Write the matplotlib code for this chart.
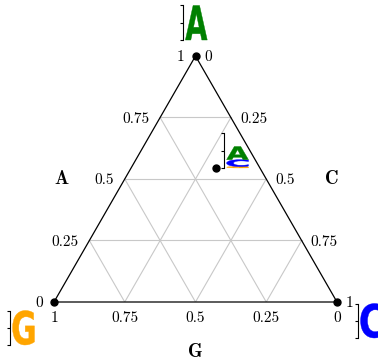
import numpy as np
import matplotlib
matplotlib.use('Agg')
import matplotlib.pyplot as plt
from matplotlib.textpath import TextPath
from matplotlib.font_manager import FontProperties
from matplotlib.patches import PathPatch
from matplotlib.transforms import Affine2D

plt.rcParams['axes.unicode_minus'] = False

# Composicao (fracoes A, C, G) de cada ponto do grafico.
nomes = ['A', 'C', 'G', 'amostra']
frac_a = [1.0, 0.0, 0.0, 0.545]
frac_c = [0.0, 1.0, 0.0, 0.30]
frac_g = [0.0, 0.0, 1.0, 0.155]

# Altura de cada letra no logo (bits).
bits_a = [2.0, 0.0, 0.0, 0.76]
bits_c = [0.0, 2.0, 0.0, 0.40]
bits_g = [0.0, 0.0, 2.0, 0.08]

ticks = [0, 0.25, 0.5, 0.75, 1]
tick_labels = ['0', '0.25', '0.5', '0.75', '1']

cores = {'A': 'green', 'C': 'blue', 'G': 'orange'}

H = np.sqrt(3) / 2
W_PX, H_PX = 378, 364


def cart(a, c):
    return c + a / 2, a * H


fig = plt.figure(figsize=(W_PX / 100, H_PX / 100), dpi=100)
ax = fig.add_axes([54 / W_PX, 62 / H_PX, 283 / W_PX, 246 / H_PX])
ax.set_xlim(0, 1)
ax.set_ylim(0, H)
ax.axis('off')

# Grade.
for v in [0.25, 0.5, 0.75]:
    # A constante
    x0, y0 = cart(v, 0)
    x1, y1 = cart(v, 1 - v)
    ax.plot([x0, x1], [y0, y1], color='#c8c8c8', lw=0.8, zorder=1)
    # C constante
    x0, y0 = cart(0, v)
    x1, y1 = cart(1 - v, v)
    ax.plot([x0, x1], [y0, y1], color='#c8c8c8', lw=0.8, zorder=1)
    # G constante
    x0, y0 = cart(0, 1 - v)
    x1, y1 = cart(1 - v, 0)
    ax.plot([x0, x1], [y0, y1], color='#c8c8c8', lw=0.8, zorder=1)

# Triangulo.
tx = [cart(1, 0)[0], cart(0, 0)[0], cart(0, 1)[0], cart(1, 0)[0]]
ty = [cart(1, 0)[1], cart(0, 0)[1], cart(0, 1)[1], cart(1, 0)[1]]
ax.plot(tx, ty, color='black', lw=0.9, zorder=2, clip_on=False)

# Rotulos dos eixos.
serif = {'family': 'cmr10', 'size': 11}
for t, lab in zip(ticks, tick_labels):
    # A no lado esquerdo
    ax.annotate(lab, cart(t, 0), xytext=(-11, -1.5), textcoords='offset pixels',
                ha='right', va='center', **serif)
    # C no lado direito
    ax.annotate(lab, cart(1 - t, t), xytext=(9, -1.5), textcoords='offset pixels',
                ha='left', va='center', **serif)
    # G na base
    ax.annotate(lab, cart(0, 1 - t), xytext=(0, -16.5), textcoords='offset pixels',
                ha='center', va='center', **serif)

bold = {'family': 'cmb10', 'size': 13.5}
ax.annotate('A', cart(0.5, 0), xytext=(-63, 0), textcoords='offset pixels',
            ha='center', va='center', **bold)
ax.annotate('C', cart(0.5, 0.5), xytext=(66, 0), textcoords='offset pixels',
            ha='center', va='center', **bold)
ax.annotate('G', cart(0, 0.5), xytext=(0, -50), textcoords='offset pixels',
            ha='center', va='center', **bold)

# Pontos.
px = [cart(a, c)[0] for a, c in zip(frac_a, frac_c)]
py = [cart(a, c)[1] for a, c in zip(frac_a, frac_c)]
ax.plot(px, py, 'o', color='black', ms=5, zorder=5, clip_on=False)

fonte_logo = FontProperties(family='DejaVu Sans', weight='bold')


def desenha_letra(lax, letra, x0, y0, w, h, cor):
    if h <= 0:
        return
    tp = TextPath((0, 0), letra, size=1, prop=fonte_logo)
    bb = tp.get_extents()
    tr = (Affine2D().translate(-bb.x0, -bb.y0)
          .scale(w / bb.width, h / bb.height).translate(x0, y0))
    lax.add_patch(PathPatch(tr.transform_path(tp), facecolor=cor,
                            edgecolor=cor, lw=0.3, clip_on=False))


# Deslocamento (pixels) do canto inferior do logo em relacao ao ponto.
desloc = [(-12.7, 16), (21, -36), (-44, -43), (8, 0)]
larg_logo, alt_logo = 26, 34.5

fig.canvas.draw()
for i in range(len(nomes)):
    dx, dy = ax.transData.transform((px[i], py[i]))
    dx += desloc[i][0]
    dy += desloc[i][1]
    lax = fig.add_axes([dx / W_PX, dy / H_PX, larg_logo / W_PX, alt_logo / H_PX])
    lax.patch.set_visible(False)
    lax.set_xlim(0, 1)
    lax.set_ylim(0, 2)
    for s in ['top', 'right', 'bottom']:
        lax.spines[s].set_visible(False)
    lax.spines['left'].set_linewidth(0.8)
    lax.set_xticks([])
    lax.set_yticks([0, 1, 2])
    lax.set_yticklabels([])
    lax.tick_params(axis='y', length=2.5, width=0.8)
    alturas = sorted([(bits_a[i], 'A'), (bits_c[i], 'C'), (bits_g[i], 'G')])
    base = 0
    for h, letra in alturas:
        desenha_letra(lax, letra, 0.1, base, 0.84, h, cores[letra])
        base += h

fig.savefig('out.png', dpi=100)
